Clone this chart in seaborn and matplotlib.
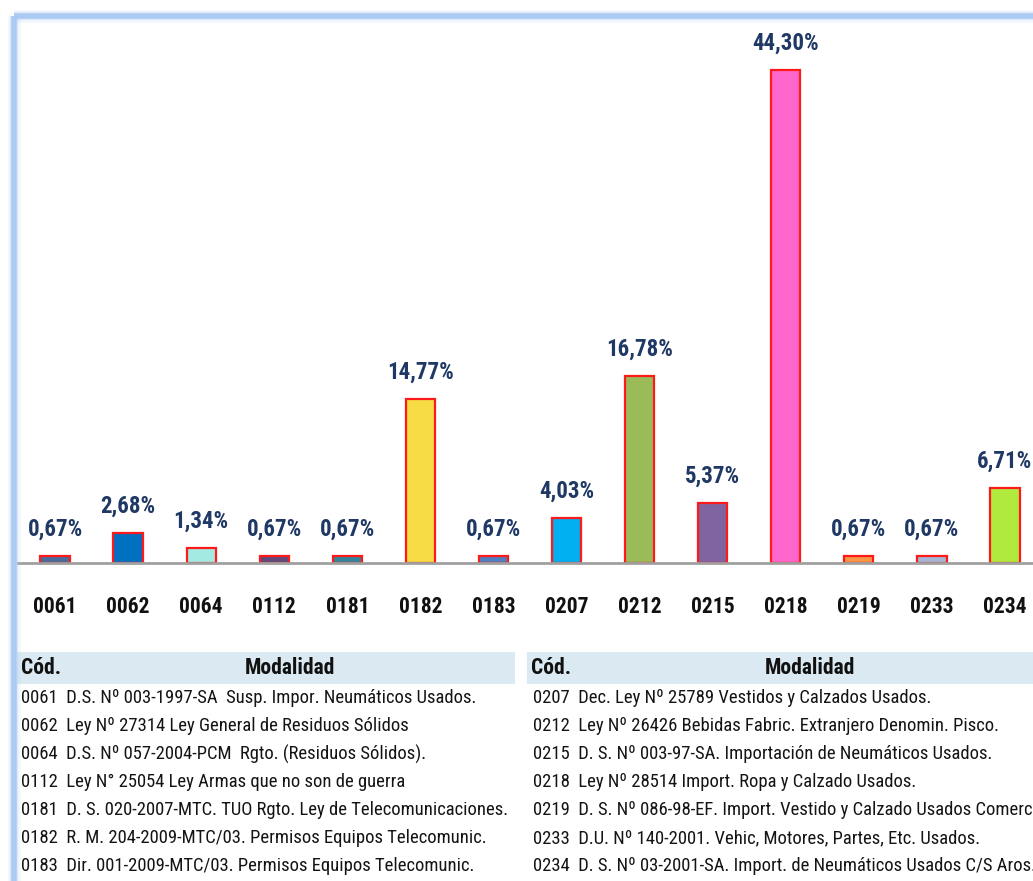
import numpy as np
import seaborn as sns
from matplotlib import pyplot as plt
from matplotlib.lines import Line2D
from matplotlib.patches import Rectangle

codes = ['0061', '0062', '0064', '0112', '0181', '0182', '0183',
         '0207', '0212', '0215', '0218', '0219', '0233', '0234']
values = [0.67, 2.68, 1.34, 0.67, 0.67, 14.77, 0.67,
          4.03, 16.78, 5.37, 44.30, 0.67, 0.67, 6.71]
bar_colors = ['#4a6b9c', '#0070c0', '#a3ebe2', '#604a7b', '#31849b', '#f7dc45', '#4f7fbf',
              '#00b0f0', '#9bbb59', '#8064a2', '#ff66cc', '#f79646', '#a5b7d6', '#b0ea3e']

left_rows = [
    ('0061', 'D.S. Nº 003-1997-SA  Susp. Impor. Neumáticos Usados.'),
    ('0062', 'Ley Nº 27314 Ley General de Residuos Sólidos'),
    ('0064', 'D.S. Nº 057-2004-PCM  Rgto. (Residuos Sólidos).'),
    ('0112', 'Ley N° 25054 Ley Armas que no son de guerra'),
    ('0181', 'D. S. 020-2007-MTC. TUO Rgto. Ley de Telecomunicaciones.'),
    ('0182', 'R. M. 204-2009-MTC/03. Permisos Equipos Telecomunic.'),
    ('0183', 'Dir. 001-2009-MTC/03. Permisos Equipos Telecomunic.'),
]
right_rows = [
    ('0207', 'Dec. Ley Nº 25789 Vestidos y Calzados Usados.'),
    ('0212', 'Ley Nº 26426 Bebidas Fabric. Extranjero Denomin. Pisco.'),
    ('0215', 'D. S. Nº 003-97-SA. Importación de Neumáticos Usados.'),
    ('0218', 'Ley Nº 28514 Import. Ropa y Calzado Usados.'),
    ('0219', 'D. S. Nº 086-98-EF. Import. Vestido y Calzado Usados Comerc'),
    ('0233', 'D.U. Nº 140-2001. Vehic, Motores, Partes, Etc. Usados.'),
    ('0234', 'D. S. Nº 03-2001-SA. Import. de Neumáticos Usados C/S Aros.'),
]

sns.set_style('white')
plt.rcParams['font.family'] = ['Roboto Condensed', 'PT Sans Narrow', 'Archivo Narrow', 'DejaVu Sans']

W, H = 1033, 881
fig = plt.figure(figsize=(W / 100, H / 100), dpi=100)


def fx(px):
    return px / W


def fy(py):
    return 1 - py / H


# light blue frame round the chart
for lw, a in [(9, 0.15), (6, 0.3), (4, 0.9)]:
    fig.add_artist(Line2D([fx(14), fx(14)], [fy(16), 0], color='#a8c8f2', lw=lw, alpha=a,
                          solid_capstyle='butt'))
    fig.add_artist(Line2D([fx(14), 1], [fy(16), fy(16)], color='#a8c8f2', lw=lw, alpha=a,
                          solid_capstyle='butt'))

# bar chart
x0, x1 = 18, 1033
base_y, top_y = 563, 20
ax = fig.add_axes([fx(x0), fy(base_y), fx(x1 - x0), (base_y - top_y) / H])
sns.barplot(x=codes, y=values, hue=codes, palette=bar_colors, legend=False,
            edgecolor='#ff1a1a', linewidth=1.6, width=0.4, saturation=1, ax=ax)
px_per_cat = 73
ax.set_xlim(-(55 - x0) / px_per_cat, 13 + (x1 - 1005) / px_per_cat)
ax.set_ylim(0, (base_y - top_y) / 11.13)
for s in ['top', 'right', 'left']:
    ax.spines[s].set_visible(False)
ax.spines['bottom'].set_color('#a0a0a0')
ax.spines['bottom'].set_linewidth(2)
ax.set_yticks([])
ax.tick_params(axis='x', length=0, pad=24)
for lab in ax.get_xticklabels():
    lab.set_fontsize(15.5)
    lab.set_fontweight('bold')
    lab.set_color('#111111')
ax.set_xlabel('')
ax.set_ylabel('')
ax.patch.set_alpha(0)

for i, v in enumerate(values):
    ax.annotate(f'{v:.2f}%'.replace('.', ','), (i, v), xytext=(0, 11), textcoords='offset points',
                ha='center', va='bottom', fontsize=16.5, fontweight='bold', color='#1f3864',
                annotation_clip=False)

# legend table below the chart
header_bg = '#dbeaf2'
fig.add_artist(Rectangle((fx(17), fy(684)), fx(515 - 17), (684 - 652) / H,
                         facecolor=header_bg, edgecolor='none'))
fig.add_artist(Rectangle((fx(527), fy(684)), fx(W - 527), (684 - 652) / H,
                         facecolor=header_bg, edgecolor='none'))

header_kw = dict(fontsize=15.5, fontweight='bold', color='#111111', va='center')
fig.text(fx(21), fy(668), 'Cód.', ha='left', **header_kw)
fig.text(fx(290), fy(668), 'Modalidad', ha='center', **header_kw)
fig.text(fx(531), fy(668), 'Cód.', ha='left', **header_kw)
fig.text(fx(810), fy(668), 'Modalidad', ha='center', **header_kw)

row_kw = dict(fontsize=13.4, color='#141414', va='center', ha='left')
for j, (c, txt) in enumerate(left_rows):
    fig.text(fx(21), fy(698 + j * 28), c + '  ' + txt, **row_kw)
for j, (c, txt) in enumerate(right_rows):
    fig.text(fx(533), fy(698 + j * 28), c + '  ' + txt, **row_kw)

fig.savefig('out.png', dpi=100)
